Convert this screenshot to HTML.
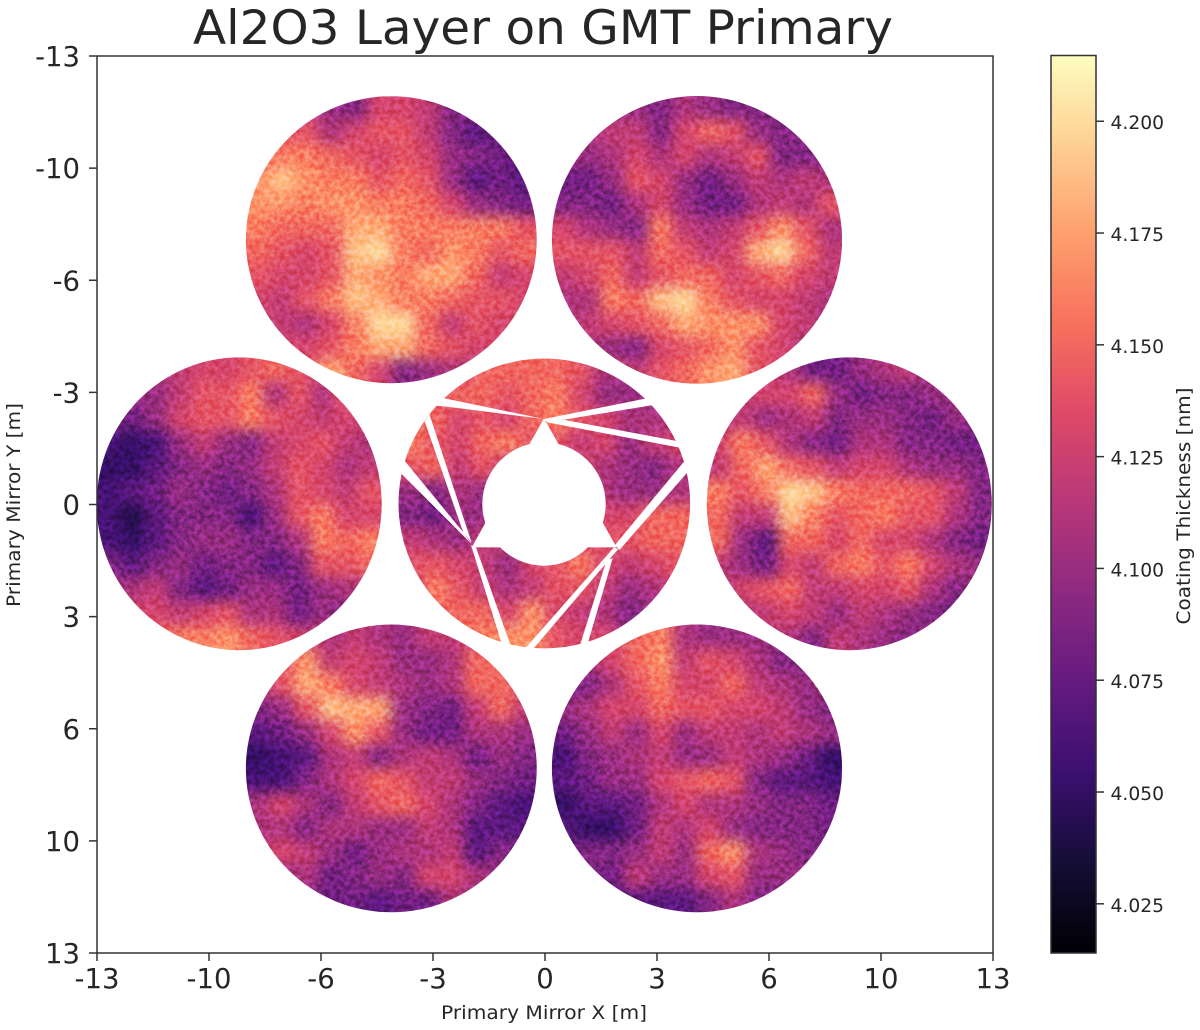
<!DOCTYPE html>
<html>
<head>
<meta charset="utf-8">
<title>Al2O3 Layer on GMT Primary</title>
<style>
html,body{margin:0;padding:0;background:#fff;width:1200px;height:1030px;overflow:hidden}
svg{display:block}
text{font-family:"DejaVu Sans","Liberation Sans",sans-serif;fill:#262626}
</style>
</head>
<body>
<svg id="chart" xmlns="http://www.w3.org/2000/svg" width="1200" height="1030" viewBox="0 0 1200 1030">
  <defs>
    <filter id="soften" x="-30%" y="-30%" width="160%" height="160%" color-interpolation-filters="sRGB">
      <feGaussianBlur stdDeviation="7"/>
    </filter>
    <filter id="grain" x="0" y="0" width="100%" height="100%" color-interpolation-filters="sRGB">
      <feTurbulence type="fractalNoise" baseFrequency="0.2" numOctaves="3" seed="7"/>
      <feColorMatrix type="matrix" values="2 0 0 0 -0.5  2 0 0 0 -0.5  2 0 0 0 -0.5  0 0 0 0 1"/>
    </filter>
    <linearGradient id="magma-gradient" x1="0" y1="1" x2="0" y2="0"></linearGradient>
  </defs>
  <text x="543" y="44" font-size="47.5" text-anchor="middle" textLength="700" lengthAdjust="spacingAndGlyphs">Al2O3 Layer on GMT Primary</text>
  <g id="segments"></g>
  <g id="center-mask">
    <circle cx="544" cy="504" r="61.7" fill="#fff"/>
    <g transform="translate(390,350) scale(0.33333)" fill="#fff">
      <polygon points="462,205 245,592 680,592"/>
      <polygon points="462,207 150,142 110,165 170,170"/>
      <polygon points="462,207 770,145 790,165 515,210"/>
      <polygon points="462,207 515,208 870,275 880,295 472,217"/>
      <polygon points="104,214 118,192 245,578 220,548"/>
      <polygon points="28,365 42,330 218,545 245,582"/>
      <polygon points="243,585 258,592 366,898 336,884"/>
      <polygon points="675,585 882,335 897,362 688,600"/>
      <polygon points="672,592 685,597 425,902 400,902"/>
      <polygon points="650,630 668,625 592,885 568,892"/>
    </g>
  </g>
  <rect x="97" y="56" width="896" height="897" fill="none" stroke="#333" stroke-width="1.5"/>
  <g id="axes"></g>
  <text x="544" y="1019" font-size="19" text-anchor="middle" textLength="206" lengthAdjust="spacingAndGlyphs">Primary Mirror X [m]</text>
  <text transform="translate(20,505) rotate(-90)" font-size="19" text-anchor="middle" textLength="204" lengthAdjust="spacingAndGlyphs">Primary Mirror Y [m]</text>
  <rect x="1051" y="55.5" width="45" height="897.5" fill="url(#magma-gradient)" stroke="#333" stroke-width="1.5"/>
  <g id="colorbar-axis"></g>
  <text transform="translate(1190,506) rotate(-90)" font-size="19" text-anchor="middle" textLength="237" lengthAdjust="spacingAndGlyphs">Coating Thickness [nm]</text>
</svg>
<script>
const xTickValues = [-13, -9.75, -6.5, -3.25, 0, 3.25, 6.5, 9.75, 13];
const xTickLabels = ["-13", "-10", "-6", "-3", "0", "3", "6", "10", "13"];
const yTickValues = [-13, -9.75, -6.5, -3.25, 0, 3.25, 6.5, 9.75, 13];
const yTickLabels = ["-13", "-10", "-6", "-3", "0", "3", "6", "10", "13"];
const colorbarTickValues = [4.025, 4.05, 4.075, 4.1, 4.125, 4.15, 4.175, 4.2];
const colorbarTickLabels = ["4.025", "4.050", "4.075", "4.100", "4.125", "4.150", "4.175", "4.200"];
const colorMin = 4.014;
const colorMax = 4.2147;
const magmaStops = ["#000004", "#140e36", "#3b0f70", "#641a80", "#8c2981", "#b73779", "#de4968", "#f7705c", "#fe9f6d", "#fecf92", "#fcfdbf"];
const segmentNames = ["top-left", "top-right", "left", "center", "right", "bottom-left", "bottom-right"];
const segmentCenterX = [-4.46, 4.41, -8.874, -0.02, 8.83, -4.46, 4.41];
const segmentCenterY = [-7.675, -7.67, -0.02, -0.03, -0.02, 7.65, 7.65];
const segmentRadiusX = [4.22, 4.21, 4.135, 4.23, 4.135, 4.22, 4.21];
const segmentRadiusY = [4.16, 4.17, 4.243, 4.2, 4.243, 4.17, 4.17];

const topLeftThickness = [
[4.12,4.12,4.12,4.10,4.09,4.13,4.13,4.12,4.09,4.09,4.09,4.09],
[4.14,4.14,4.14,4.11,4.13,4.14,4.14,4.12,4.09,4.07,4.08,4.08],
[4.15,4.16,4.16,4.15,4.14,4.13,4.14,4.13,4.10,4.09,4.08,4.07],
[4.17,4.19,4.17,4.16,4.16,4.14,4.15,4.14,4.10,4.07,4.08,4.07],
[4.17,4.17,4.16,4.17,4.17,4.16,4.16,4.15,4.13,4.10,4.09,4.08],
[4.16,4.15,4.15,4.15,4.18,4.18,4.16,4.16,4.16,4.16,4.16,4.14],
[4.15,4.14,4.13,4.14,4.19,4.20,4.16,4.15,4.17,4.16,4.14,4.15],
[4.14,4.13,4.13,4.14,4.18,4.17,4.16,4.18,4.18,4.15,4.12,4.13],
[4.13,4.12,4.14,4.16,4.19,4.18,4.16,4.16,4.15,4.14,4.14,4.13],
[4.13,4.12,4.11,4.13,4.16,4.20,4.20,4.15,4.12,4.14,4.13,4.13],
[4.14,4.13,4.13,4.14,4.16,4.18,4.18,4.15,4.14,4.13,4.13,4.13],
[4.14,4.14,4.14,4.18,4.15,4.13,4.09,4.10,4.11,4.11,4.11,4.11]
];
const topRightThickness = [
[4.11,4.11,4.10,4.10,4.09,4.11,4.10,4.09,4.09,4.09,4.10,4.10],
[4.11,4.11,4.12,4.12,4.09,4.13,4.15,4.14,4.10,4.09,4.09,4.09],
[4.10,4.10,4.11,4.13,4.11,4.13,4.11,4.12,4.14,4.09,4.09,4.09],
[4.08,4.08,4.10,4.14,4.13,4.10,4.08,4.10,4.12,4.11,4.12,4.11],
[4.09,4.09,4.08,4.11,4.13,4.10,4.08,4.08,4.11,4.12,4.11,4.14],
[4.13,4.11,4.10,4.09,4.16,4.12,4.11,4.12,4.14,4.17,4.14,4.11],
[4.14,4.14,4.14,4.12,4.15,4.14,4.12,4.13,4.18,4.20,4.15,4.12],
[4.12,4.13,4.15,4.12,4.14,4.15,4.15,4.13,4.14,4.15,4.13,4.12],
[4.11,4.11,4.16,4.15,4.19,4.20,4.16,4.14,4.13,4.13,4.12,4.11],
[4.11,4.12,4.13,4.14,4.15,4.18,4.17,4.17,4.17,4.13,4.12,4.11],
[4.11,4.11,4.10,4.09,4.13,4.14,4.15,4.17,4.14,4.13,4.11,4.11],
[4.13,4.13,4.13,4.12,4.14,4.15,4.17,4.18,4.14,4.13,4.13,4.13]
];
const leftThickness = [
[4.10,4.10,4.11,4.12,4.13,4.13,4.14,4.15,4.14,4.13,4.13,4.13],
[4.10,4.10,4.10,4.12,4.14,4.14,4.16,4.11,4.14,4.11,4.14,4.13],
[4.09,4.08,4.10,4.13,4.14,4.14,4.16,4.14,4.13,4.12,4.13,4.12],
[4.06,4.05,4.06,4.10,4.12,4.10,4.09,4.12,4.13,4.14,4.12,4.11],
[4.05,4.05,4.07,4.09,4.10,4.09,4.10,4.12,4.14,4.13,4.11,4.12],
[4.06,4.07,4.08,4.10,4.09,4.08,4.09,4.11,4.14,4.13,4.12,4.14],
[4.06,4.04,4.07,4.09,4.09,4.09,4.06,4.10,4.14,4.16,4.13,4.13],
[4.06,4.05,4.07,4.09,4.10,4.10,4.09,4.09,4.11,4.16,4.15,4.16],
[4.09,4.07,4.09,4.10,4.08,4.09,4.09,4.07,4.09,4.14,4.14,4.15],
[4.10,4.11,4.12,4.09,4.07,4.08,4.10,4.10,4.08,4.10,4.11,4.11],
[4.11,4.13,4.13,4.12,4.13,4.14,4.11,4.11,4.08,4.10,4.09,4.10],
[4.13,4.14,4.15,4.16,4.16,4.17,4.15,4.14,4.13,4.12,4.12,4.12]
];
const centerThickness = [
[4.13,4.13,4.13,4.15,4.15,4.15,4.15,4.14,4.11,4.10,4.10,4.10],
[4.13,4.14,4.15,4.15,4.14,4.15,4.16,4.13,4.10,4.10,4.10,4.10],
[4.15,4.15,4.13,4.14,4.13,4.15,4.16,4.14,4.13,4.11,4.11,4.11],
[4.16,4.14,4.13,4.15,4.16,4.14,4.14,4.12,4.13,4.10,4.12,4.13],
[4.14,4.15,4.12,4.14,4.12,4.13,4.13,4.13,4.11,4.10,4.09,4.11],
[4.10,4.09,4.11,4.10,4.12,4.13,4.13,4.12,4.11,4.10,4.10,4.11],
[4.09,4.08,4.10,4.10,4.13,4.13,4.13,4.13,4.13,4.13,4.15,4.15],
[4.12,4.11,4.10,4.12,4.12,4.13,4.13,4.13,4.14,4.14,4.15,4.15],
[4.14,4.14,4.13,4.12,4.10,4.13,4.14,4.16,4.13,4.12,4.13,4.14],
[4.13,4.16,4.14,4.12,4.11,4.12,4.14,4.14,4.12,4.10,4.11,4.13],
[4.14,4.15,4.15,4.15,4.13,4.17,4.13,4.12,4.11,4.09,4.10,4.11],
[4.14,4.15,4.15,4.16,4.17,4.17,4.14,4.13,4.13,4.10,4.10,4.11]
];
const rightThickness = [
[4.11,4.11,4.12,4.11,4.08,4.08,4.10,4.11,4.12,4.10,4.10,4.10],
[4.12,4.12,4.13,4.13,4.15,4.10,4.08,4.09,4.09,4.10,4.10,4.10],
[4.11,4.12,4.10,4.11,4.12,4.09,4.10,4.10,4.09,4.08,4.10,4.09],
[4.13,4.16,4.14,4.11,4.09,4.08,4.11,4.11,4.09,4.09,4.08,4.08],
[4.12,4.15,4.18,4.15,4.14,4.12,4.13,4.13,4.11,4.10,4.10,4.09],
[4.16,4.14,4.16,4.20,4.19,4.16,4.15,4.15,4.15,4.14,4.12,4.09],
[4.15,4.12,4.12,4.19,4.16,4.14,4.15,4.16,4.14,4.14,4.11,4.09],
[4.15,4.10,4.07,4.15,4.15,4.13,4.15,4.13,4.13,4.11,4.09,4.08],
[4.12,4.10,4.08,4.13,4.12,4.15,4.16,4.14,4.16,4.13,4.11,4.10],
[4.11,4.13,4.14,4.15,4.12,4.12,4.13,4.13,4.14,4.11,4.09,4.10],
[4.10,4.11,4.12,4.13,4.12,4.10,4.12,4.11,4.10,4.09,4.08,4.10],
[4.11,4.11,4.12,4.11,4.09,4.12,4.11,4.10,4.09,4.10,4.10,4.10]
];
const bottomLeftThickness = [
[4.12,4.12,4.12,4.11,4.12,4.11,4.10,4.12,4.12,4.13,4.13,4.13],
[4.13,4.14,4.17,4.12,4.13,4.12,4.10,4.10,4.11,4.15,4.15,4.14],
[4.11,4.14,4.18,4.16,4.13,4.12,4.11,4.10,4.11,4.15,4.15,4.14],
[4.09,4.10,4.14,4.19,4.18,4.18,4.10,4.09,4.08,4.12,4.15,4.12],
[4.07,4.08,4.10,4.13,4.17,4.14,4.10,4.08,4.08,4.11,4.11,4.10],
[4.05,4.06,4.07,4.11,4.12,4.09,4.11,4.12,4.11,4.08,4.10,4.09],
[4.06,4.06,4.09,4.11,4.13,4.15,4.14,4.12,4.12,4.10,4.09,4.08],
[4.11,4.13,4.11,4.09,4.12,4.14,4.15,4.13,4.11,4.09,4.07,4.06],
[4.11,4.11,4.09,4.11,4.11,4.10,4.10,4.12,4.11,4.07,4.07,4.07],
[4.12,4.13,4.12,4.10,4.08,4.10,4.11,4.11,4.12,4.07,4.09,4.09],
[4.11,4.10,4.11,4.08,4.09,4.10,4.09,4.13,4.13,4.11,4.10,4.09],
[4.10,4.09,4.09,4.08,4.08,4.07,4.08,4.08,4.11,4.10,4.10,4.10]
];
const bottomRightThickness = [
[4.11,4.12,4.13,4.15,4.16,4.11,4.10,4.10,4.10,4.10,4.10,4.10],
[4.10,4.11,4.13,4.15,4.17,4.12,4.14,4.13,4.11,4.09,4.09,4.09],
[4.08,4.09,4.11,4.14,4.16,4.13,4.13,4.15,4.12,4.11,4.10,4.10],
[4.10,4.11,4.13,4.13,4.15,4.14,4.14,4.13,4.13,4.12,4.10,4.09],
[4.08,4.10,4.12,4.10,4.13,4.10,4.12,4.12,4.11,4.12,4.11,4.10],
[4.06,4.09,4.10,4.11,4.12,4.10,4.10,4.12,4.11,4.10,4.08,4.05],
[4.07,4.08,4.10,4.10,4.13,4.14,4.15,4.14,4.09,4.07,4.07,4.06],
[4.05,4.07,4.07,4.08,4.11,4.13,4.11,4.11,4.10,4.09,4.09,4.08],
[4.07,4.05,4.05,4.08,4.12,4.11,4.13,4.10,4.09,4.09,4.09,4.08],
[4.08,4.09,4.09,4.10,4.12,4.10,4.15,4.17,4.11,4.10,4.09,4.09],
[4.09,4.09,4.08,4.12,4.10,4.10,4.13,4.14,4.10,4.10,4.10,4.09],
[4.09,4.08,4.07,4.07,4.07,4.07,4.09,4.11,4.09,4.08,4.09,4.09]
];
const segmentGrids = [topLeftThickness, topRightThickness, leftThickness, centerThickness, rightThickness, bottomLeftThickness, bottomRightThickness];

const NS = "http://www.w3.org/2000/svg";
function xScale(v) { return 545 + v * (896 / 26); }
function yScale(v) { return 504.5 + v * (897 / 26); }
function colorbarScale(v) { return 953 - (v - colorMin) / (colorMax - colorMin) * 897.5; }
function hexToRgb(h) { return [parseInt(h.slice(1,3),16), parseInt(h.slice(3,5),16), parseInt(h.slice(5,7),16)]; }
function magma(t) {
  const c = Math.max(0, Math.min(1, t)) * (magmaStops.length - 1);
  const i = Math.min(Math.floor(c), magmaStops.length - 2);
  const f = c - i;
  const a = hexToRgb(magmaStops[i]);
  const b = hexToRgb(magmaStops[i + 1]);
  return "rgb(" + Math.round(a[0] + (b[0] - a[0]) * f) + "," + Math.round(a[1] + (b[1] - a[1]) * f) + "," + Math.round(a[2] + (b[2] - a[2]) * f) + ")";
}
function colorOf(v) { return magma((v - colorMin) / (colorMax - colorMin)); }
function make(tag, attrs, parent) {
  const el = document.createElementNS(NS, tag);
  for (const k in attrs) el.setAttribute(k, attrs[k]);
  parent.appendChild(el);
  return el;
}

const gradient = document.getElementById("magma-gradient");
magmaStops.forEach(function (c, i) {
  make("stop", { offset: i / (magmaStops.length - 1), "stop-color": c }, gradient);
});

const defs = document.querySelector("defs");
const segmentsRoot = document.getElementById("segments");
segmentGrids.forEach(function (grid, s) {
  const cx = segmentCenterX[s];
  const cy = segmentCenterY[s];
  const rx = segmentRadiusX[s];
  const ry = segmentRadiusY[s];
  const clip = make("clipPath", { id: "clip-" + s }, defs);
  make("ellipse", { cx: xScale(cx), cy: yScale(cy), rx: xScale(rx) - xScale(0), ry: yScale(ry) - yScale(0) }, clip);
  const seg = make("g", { "clip-path": "url(#clip-" + s + ")" }, segmentsRoot);
  
  
  const cells = make("g", { filter: "url(#soften)" }, seg);
  const n = grid.length;
  const stepX = 2 * rx / n;
  const stepY = 2 * ry / n;
  grid.forEach(function (row, r) {
    row.forEach(function (v, c) {
      const pad = 1.2;
      const x0 = cx - rx + c * stepX - (c === 0 ? pad : 0);
      const x1 = cx - rx + (c + 1) * stepX + (c === n - 1 ? pad : 0);
      const y0 = cy - ry + r * stepY - (r === 0 ? pad : 0);
      const y1 = cy - ry + (r + 1) * stepY + (r === n - 1 ? pad : 0);
      const cell = make("rect", { x: xScale(x0), y: yScale(y0), width: xScale(x1) - xScale(x0) + 0.5, height: yScale(y1) - yScale(y0) + 0.5, fill: colorOf(v) }, cells);
      
      
    });
  });
  const noise = make("rect", { x: xScale(cx - rx), y: yScale(cy - ry), width: xScale(2 * rx) - xScale(0), height: yScale(2 * ry) - yScale(0), filter: "url(#grain)", opacity: "0.28", style: "mix-blend-mode:overlay" }, seg);
  
  
});

const axes = document.getElementById("axes");
xTickValues.forEach(function (v, i) {
  const px = xScale(v);
  const t = make("line", { x1: px, x2: px, y1: 953, y2: 961, stroke: "#333", "stroke-width": 1.5 }, axes);
  
  
  const l = make("text", { x: px, y: 988, "font-size": 27.5, "text-anchor": "middle" }, axes);
  l.textContent = xTickLabels[i];
  
  
});
yTickValues.forEach(function (v, i) {
  const py = yScale(v);
  const t = make("line", { x1: 89, x2: 97, y1: py, y2: py, stroke: "#333", "stroke-width": 1.5 }, axes);
  
  
  const l = make("text", { x: 80, y: py + 10, "font-size": 27.5, "text-anchor": "end" }, axes);
  l.textContent = yTickLabels[i];
  
  
});
const cbAxis = document.getElementById("colorbar-axis");
colorbarTickValues.forEach(function (v, i) {
  const py = colorbarScale(v);
  const t = make("line", { x1: 1096, x2: 1104, y1: py, y2: py, stroke: "#333", "stroke-width": 1.5 }, cbAxis);
  
  
  const l = make("text", { x: 1110.5, y: py + 8, "font-size": 18.7 }, cbAxis);
  l.textContent = colorbarTickLabels[i];
  
  
});
</script>
</body>
</html>
